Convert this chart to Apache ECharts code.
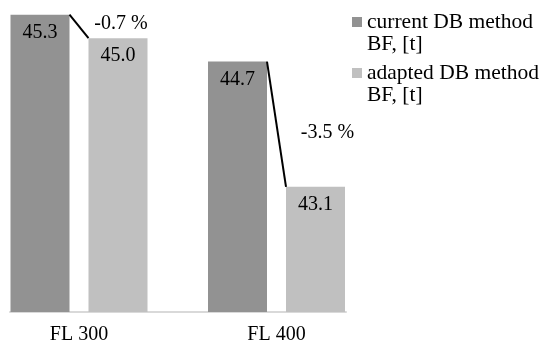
<!DOCTYPE html>
<html>
<head>
<meta charset="utf-8">
<script src="https://cdn.jsdelivr.net/npm/echarts@6/dist/echarts.min.js"></script>
<style>
html,body{margin:0;padding:0;background:#fff;}
#chart{width:543px;height:343px;}
</style>
</head>
<body>
<div id="chart"></div>
<script>
// ---- data ----
const categories = ['FL 300', 'FL 400'];
const seriesNames = ['current DB method\nBF, [t]', 'adapted DB method\nBF, [t]'];
const currentValues = [45.3, 44.7];
const adaptedValues = [45.0, 43.1];
const changeLabels = ['-0.7 %', '-3.5 %'];

// ---- style ----
const FONT = "'Liberation Serif', 'Times New Roman', serif";
const BAR_W = 59;
const BAR_GAP = 19;
const colors = ['#929292', '#c0c0c0'];
const changeLabelOffsets = [[42, -3], [51, 9]];

const chart = echarts.init(document.getElementById('chart'));
chart.setOption({
  animation: false,
  backgroundColor: '#fff',
  textStyle: { fontFamily: FONT },
  grid: [
    { left: -19.75, width: 395, top: -1, bottom: 31, outerBoundsMode: 'none', containLabel: false },
    { left: 10, width: 336, bottom: 31, height: 1, outerBoundsMode: 'none', containLabel: false }
  ],
  xAxis: [
    {
      type: 'category', gridIndex: 0, data: categories,
      axisLine: { show: false }, axisTick: { show: false },
      axisLabel: { color: '#000', fontFamily: FONT, fontSize: 20, margin: 13 }
    },
    {
      type: 'value', gridIndex: 1, min: 0, max: 1,
      axisLine: { show: true, lineStyle: { color: '#d9d9d9', width: 2 } },
      axisTick: { show: false }, axisLabel: { show: false }, splitLine: { show: false }
    }
  ],
  yAxis: [
    { type: 'value', gridIndex: 0, min: 41.5, max: 45.5, show: false, splitLine: { show: false } },
    { type: 'value', gridIndex: 1, show: false, splitLine: { show: false } }
  ],
  legend: {
    orient: 'vertical', left: 352, top: -11, itemGap: -15, padding: 0,
    itemWidth: 10, itemHeight: 10, icon: 'rect',
    formatter: name => '\n' + name,
    textStyle: { color: '#000', fontFamily: FONT, fontSize: 21.5, lineHeight: 22 },
    data: seriesNames
  },
  series: [
    {
      name: seriesNames[0], type: 'bar', data: currentValues,
      barWidth: BAR_W, barGap: (BAR_GAP / BAR_W * 100) + '%',
      itemStyle: { color: colors[0] },
      label: { show: true, position: 'insideTop', distance: 8, color: '#000', fontFamily: FONT, fontSize: 20,
               formatter: p => p.value.toFixed(1) }
    },
    {
      name: seriesNames[1], type: 'bar', data: adaptedValues,
      barWidth: BAR_W,
      itemStyle: { color: colors[1] },
      label: { show: true, position: 'insideTop', distance: 8, color: '#000', fontFamily: FONT, fontSize: 20,
               formatter: p => p.value.toFixed(1) }
    },
    {
      type: 'custom', z: 10,
      data: categories.map((c, i) => [i, currentValues[i], adaptedValues[i]]),
      renderItem: function (params, api) {
        const i = api.value(0);
        const p1 = api.coord([i, api.value(1)]);
        const p2 = api.coord([i, api.value(2)]);
        const x1 = p1[0] - BAR_GAP / 2, x2 = p2[0] + BAR_GAP / 2;
        const mx = (x1 + x2) / 2, my = (p1[1] + p2[1]) / 2;
        const off = changeLabelOffsets[i];
        return {
          type: 'group',
          children: [
            { type: 'line', shape: { x1: x1, y1: p1[1], x2: x2, y2: p2[1] },
              style: { stroke: '#000', lineWidth: 2 } },
            { type: 'text', x: mx + off[0], y: my + off[1],
              style: { text: changeLabels[i], fill: '#000', fontFamily: FONT, fontSize: 20,
                       align: 'center', verticalAlign: 'middle' } }
          ]
        };
      }
    }
  ]
});
</script>
</body>
</html>
